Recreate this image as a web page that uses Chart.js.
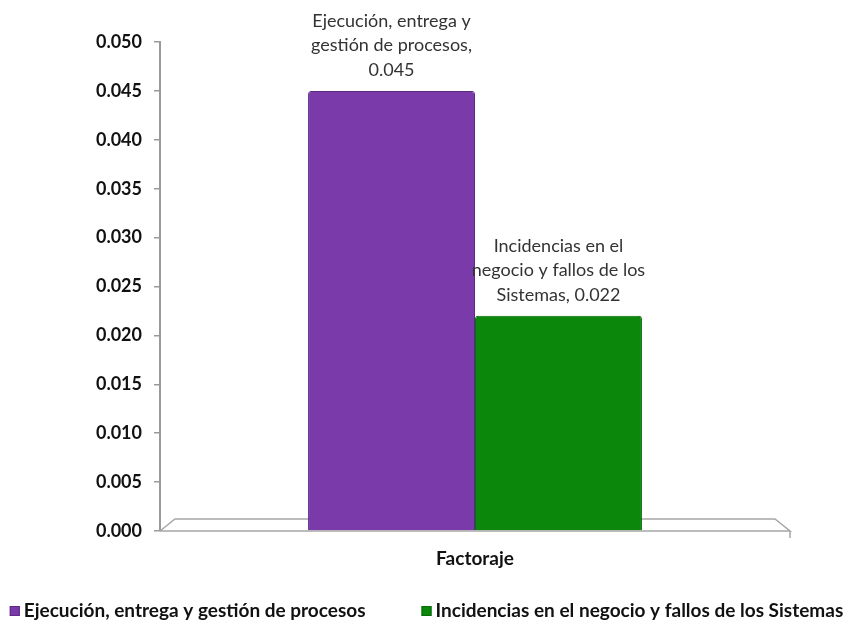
<!DOCTYPE html>
<html>
<head>
<meta charset="utf-8">
<script src="https://cdn.jsdelivr.net/npm/chart.js@4.4.1/dist/chart.umd.min.js"></script>
<style>
  html, body { margin: 0; padding: 0; background: #fff; }
  #wrap { width: 853px; height: 625px; }
</style>
</head>
<body>
<div id="wrap"><canvas id="chart" width="853" height="625"></canvas></div>
<script>
// donnees du graphique
const categories = ['Factoraje'];
const seriesNames = ['Ejecución, entrega y gestión de procesos', 'Incidencias en el negocio y fallos de los Sistemas'];
const ejecucionValues = [0.045];
const incidenciasValues = [0.022];
const labelLines = [
    ['Ejecución, entrega y', 'gestión de procesos,', '0.045'],
    ['Incidencias en el', 'negocio y fallos de los', 'Sistemas, 0.022']
];
const yTicks = [0, 0.005, 0.01, 0.015, 0.02, 0.025, 0.03, 0.035, 0.04, 0.045, 0.05];

const FONT = 'Lato, "Open Sans", sans-serif';

// plancher 3D sous les barres
const floorPlugin = {
    id: 'floor',
    beforeDatasetsDraw(chart) {
        const ctx = chart.ctx;
        const a = chart.chartArea;
        const y0 = chart.scales.y.getPixelForValue(0);
        ctx.save();
        ctx.strokeStyle = '#a6a6a6';
        ctx.lineWidth = 1.5;
        ctx.beginPath();
        ctx.moveTo(a.left, y0);
        ctx.lineTo(a.left + 15, y0 - 12);
        ctx.lineTo(a.right - 15, y0 - 12);
        ctx.lineTo(a.right, y0);
        ctx.lineTo(a.left, y0);
        ctx.stroke();
        ctx.beginPath();
        ctx.moveTo(a.right, y0);
        ctx.lineTo(a.right, y0 + 7);
        ctx.stroke();
        ctx.restore();
    }
};

// etiquettes au-dessus des barres
const barLabels = {
    id: 'barLabels',
    afterDatasetsDraw(chart) {
        const ctx = chart.ctx;
        ctx.save();
        ctx.font = '18px ' + FONT;
        ctx.fillStyle = '#333';
        ctx.textAlign = 'center';
        ctx.textBaseline = 'middle';
        chart.data.datasets.forEach((ds, i) => {
            const meta = chart.getDatasetMeta(i);
            meta.data.forEach(bar => {
                const lines = labelLines[i];
                lines.forEach((t, k) => {
                    const y = bar.y - 21 - (lines.length - 1 - k) * 24.5;
                    ctx.fillText(t, bar.x, y);
                });
            });
        });
        ctx.restore();
    }
};

// legende en bas, sur une ligne
const bottomLegend = {
    id: 'bottomLegend',
    afterDraw(chart) {
        const ctx = chart.ctx;
        const gap = 56, box = 10, boxGap = 4;
        ctx.save();
        ctx.font = 'bold 19px ' + FONT;
        ctx.textBaseline = 'middle';
        const widths = chart.data.datasets.map(ds => box + boxGap + ctx.measureText(ds.label).width);
        const total = widths.reduce((s, w) => s + w, 0) + gap * (widths.length - 1);
        let x = (chart.width - total) / 2;
        const y = 611;
        chart.data.datasets.forEach((ds, i) => {
            ctx.fillStyle = ds.backgroundColor;
            ctx.fillRect(x, y - 5, box, box);
            ctx.strokeStyle = ds.borderColor;
            ctx.lineWidth = 1;
            ctx.strokeRect(x + 0.5, y - 4.5, box - 1, box - 1);
            ctx.fillStyle = '#111';
            ctx.fillText(ds.label, x + box + boxGap, y);
            x += widths[i] + gap;
        });
        ctx.restore();
    }
};

const ctx = document.getElementById('chart');
new Chart(ctx, {
    type: 'bar',
    data: {
        labels: categories,
        datasets: [{
            label: seriesNames[0],
            data: ejecucionValues,
            backgroundColor: '#7a3aa9',
            borderColor: '#5e2a85',
            borderWidth: 1,
            borderRadius: {topLeft: 3, topRight: 3},
            borderSkipped: 'bottom'
        }, {
            label: seriesNames[1],
            data: incidenciasValues,
            backgroundColor: '#0b870c',
            borderColor: '#086a09',
            borderWidth: 1,
            borderRadius: {topLeft: 3, topRight: 3},
            borderSkipped: 'bottom'
        }]
    },
    options: {
        responsive: false,
        animation: false,
        devicePixelRatio: 1,
        layout: { padding: { top: 42, right: 63, left: 0, bottom: 31 } },
        datasets: {
            bar: { barPercentage: 1, categoryPercentage: 0.53 }
        },
        plugins: {
            legend: { display: false },
            tooltip: { enabled: false }
        },
        scales: {
            x: {
                grid: { display: false, drawTicks: false },
                border: { display: false },
                ticks: {
                    padding: 16,
                    color: '#111',
                    font: { family: FONT, size: 19, weight: 'bold' }
                },
                afterFit(scale) { scale.height = 63; }
            },
            y: {
                min: 0,
                max: 0.05,
                afterBuildTicks(scale) { scale.ticks = yTicks.map(v => ({ value: v })); },
                grid: { display: true, drawOnChartArea: false, tickLength: 6, color: '#9a9a9a', lineWidth: 1.5 },
                border: { display: true, color: '#9a9a9a', width: 2 },
                ticks: {
                    padding: 12,
                    color: '#111',
                    font: { family: FONT, size: 18, weight: 'bold' },
                    callback: v => Number(v).toFixed(3)
                },
                afterFit(scale) { scale.width = 160; }
            }
        }
    },
    plugins: [floorPlugin, barLabels, bottomLegend]
});
</script>
</body>
</html>
